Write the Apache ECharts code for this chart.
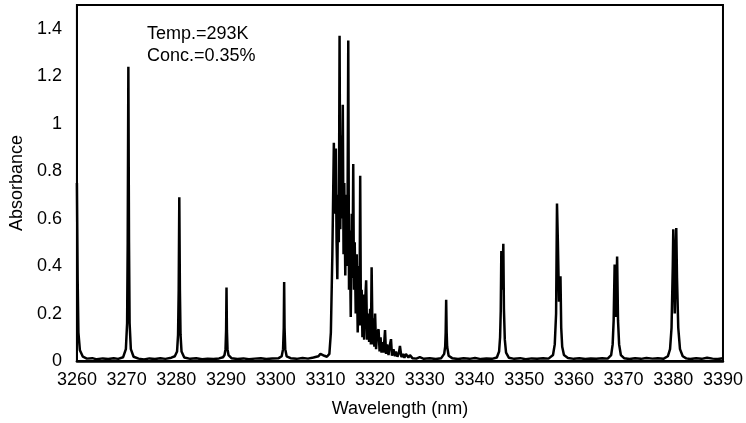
<!DOCTYPE html>
<html>
<head>
<meta charset="utf-8">
<script src="https://cdn.jsdelivr.net/npm/echarts@6/dist/echarts.min.js"></script>
<style>
html,body{margin:0;padding:0;background:#fff;}
#chart{width:746px;height:423px;}
</style>
</head>
<body>
<div id="chart"></div>
<script>
// Wavelength (nm) and absorbance
var wavelength = [
3260.0,3260.15,3260.3,3260.6,3261.2,3262.0,3263.1,3264.0,3265.2,3266.3,3267.4,3268.3,3269.3,
3269.85,3270.1,3270.22,3270.35,3270.48,3270.6,3270.85,3271.4,3272.4,3273.5,3274.6,3275.7,3276.8,3277.8,3279.0,3279.7,
3280.15,3280.35,3280.48,3280.6,3280.72,3280.85,3281.05,3281.6,3282.8,3284.0,3285.2,3286.3,3287.5,3288.6,3289.4,
3289.7,3289.9,3290.02,3290.1,3290.18,3290.3,3290.5,3291.1,3292.3,3293.5,3294.6,3295.8,3297.0,3298.1,3299.3,3300.6,3301.2,
3301.48,3301.62,3301.7,3301.78,3301.92,3302.2,3303.0,3304.2,3305.4,3306.5,3307.6,3308.6,3309.0,3309.4,3309.8,3310.3,3310.8,
3311.1,3311.4,3311.7,3311.85,3311.95,3312.1,3312.25,3312.4,3312.55,3312.7,3312.85,3313.0,3313.15,3313.3,3313.5,3313.65,3313.8,3314.0,
3314.15,3314.3,3314.45,3314.6,3314.75,3314.9,3315.1,3315.3,3315.45,3315.6,3315.75,3315.9,3316.1,3316.3,3316.5,3316.7,3316.85,
3317.0,3317.15,3317.3,3317.45,3317.6,3317.8,3318.0,3318.2,3318.4,3318.6,3318.8,3319.0,3319.15,3319.3,3319.5,3319.7,3319.85,3320.0,3320.2,3320.4,3320.7,
3320.9,3321.1,3321.3,3321.5,3321.7,3322.0,3322.2,3322.4,3322.7,3322.9,3323.2,3323.4,3323.7,3324.0,3324.2,3324.5,3324.8,3325.0,3325.3,
3325.6,3325.9,3326.2,3326.7,3327.0,3327.5,3327.8,3328.3,3329.0,3329.8,
3331.0,3332.2,3333.3,3333.9,
3334.1,3334.2,3334.3,3334.4,3334.5,3334.8,3335.5,3336.7,3337.8,3339.0,3340.1,3341.3,3342.4,3343.5,3344.5,
3344.95,3345.15,3345.28,3345.4,3345.6,3345.8,3345.92,3346.1,3346.35,3346.9,3348.0,3349.2,3350.3,3351.5,3352.6,3353.8,3354.9,
3355.8,3356.15,3356.42,3356.6,3356.78,3357.0,3357.3,3357.45,3357.65,3358.0,3358.8,3360.0,3361.1,3362.3,3363.4,3364.5,3365.7,3366.8,
3367.5,3367.8,3368.0,3368.2,3368.45,3368.7,3368.88,3369.1,3369.45,3370.1,3371.2,3372.3,3373.5,3374.6,3375.8,3376.9,3378.0,3378.9,
3379.35,3379.65,3379.9,3380.0,3380.15,3380.3,3380.45,3380.6,3380.75,3381.0,3381.35,3381.9,3382.6,3383.4,3384.6,3385.7,3386.8,3387.9,3389.0,3390.0
];
var absorbance = [
0.75,0.34,0.12,0.045,0.018,0.010,0.012,0.007,0.011,0.008,0.012,0.009,0.016,
0.05,0.16,0.5,1.24,0.5,0.16,0.05,0.018,0.010,0.006,0.011,0.008,0.012,0.009,0.014,0.02,
0.04,0.11,0.3,0.69,0.3,0.11,0.04,0.015,0.009,0.012,0.007,0.010,0.008,0.011,0.016,
0.025,0.05,0.13,0.31,0.13,0.05,0.025,0.012,0.008,0.011,0.007,0.010,0.012,0.008,0.011,0.012,0.02,
0.05,0.14,0.333,0.14,0.05,0.02,0.012,0.009,0.013,0.010,0.015,0.02,0.03,0.038,0.022,0.018,0.03,
0.12,0.45,0.92,0.62,0.80,0.895,0.5,0.345,0.7,0.5,1.37,0.555,0.95,0.6,1.08,0.45,0.75,0.36,
0.7,0.4,0.6,1.35,0.3,0.55,0.185,0.62,0.35,0.83,0.3,0.5,0.2,0.45,0.12,0.4,0.15,
0.78,0.15,0.30,0.1,0.28,0.09,0.25,0.34,0.09,0.2,0.08,0.22,0.07,0.395,0.07,0.18,0.06,0.2,0.05,0.12,0.134,
0.04,0.1,0.035,0.08,0.035,0.13,0.03,0.07,0.025,0.06,0.092,0.022,0.05,0.02,0.04,0.018,0.035,0.064,0.016,
0.03,0.014,0.03,0.014,0.025,0.012,0.02,0.010,0.016,0.009,
0.012,0.008,0.012,0.03,
0.06,0.12,0.258,0.12,0.06,0.022,0.012,0.008,0.012,0.009,0.013,0.008,0.011,0.009,0.015,
0.04,0.10,0.21,0.463,0.30,0.494,0.22,0.09,0.035,0.014,0.009,0.012,0.007,0.011,0.009,0.012,0.010,
0.025,0.07,0.2,0.664,0.5,0.25,0.357,0.14,0.06,0.025,0.013,0.009,0.012,0.008,0.011,0.009,0.012,0.010,
0.025,0.07,0.17,0.407,0.185,0.44,0.17,0.07,0.025,0.012,0.008,0.012,0.009,0.013,0.010,0.012,0.009,0.02,
0.05,0.14,0.4,0.555,0.4,0.2,0.4,0.56,0.35,0.14,0.05,0.02,0.011,0.008,0.012,0.009,0.014,0.010,0.008,0.012
];
var xTicks = { min: 3260, max: 3390, step: 10 };
var yTicks = { min: 0, max: 1.5, step: 0.2 };
var xName = 'Wavelength (nm)';
var yName = 'Absorbance';
var noteLines = ['Temp.=293K', 'Conc.=0.35%'];

var points = wavelength.map(function (w, i) { return [w, absorbance[i]]; });
var FONT = 'Liberation Sans, Arial, sans-serif';
var chart = echarts.init(document.getElementById('chart'));
chart.setOption({
  animation: false,
  backgroundColor: '#fff',
  grid: { left: 75, right: 21, top: 5, bottom: 61, show: true, borderColor: '#000', borderWidth: 2, backgroundColor: 'transparent' },
  xAxis: {
    type: 'value', min: xTicks.min, max: xTicks.max, interval: xTicks.step,
    name: xName, nameLocation: 'middle', nameGap: 39,
    nameTextStyle: { color: '#000', fontFamily: FONT, fontSize: 18 },
    axisLine: { show: true, lineStyle: { color: '#000', width: 2.5 } },
    axisTick: { show: false },
    splitLine: { show: false },
    axisLabel: { color: '#000', fontFamily: FONT, fontSize: 18, margin: 10,
      formatter: function (v) { return String(Math.round(v)); } }
  },
  yAxis: {
    type: 'value', min: yTicks.min, max: yTicks.max, interval: yTicks.step,
    name: yName, nameLocation: 'middle', nameGap: 42, nameRotate: 90,
    nameTextStyle: { color: '#000', fontFamily: FONT, fontSize: 18 },
    axisLine: { show: true, lineStyle: { color: '#000', width: 2 } },
    axisTick: { show: false },
    splitLine: { show: false },
    axisLabel: { color: '#000', fontFamily: FONT, fontSize: 18, margin: 15, showMaxLabel: false,
      formatter: function (v) { return String(Math.round(v * 10) / 10); } }
  },
  graphic: [
    { type: 'text', left: 147, top: 25, style: { text: noteLines[0], fill: '#000', font: '18px ' + FONT } },
    { type: 'text', left: 147, top: 47, style: { text: noteLines[1], fill: '#000', font: '18px ' + FONT } }
  ],
  series: [{
    type: 'line', data: points, showSymbol: false, symbol: 'none', sampling: null,
    lineStyle: { color: '#000', width: 2.5 }, clip: true
  }]
});
</script>
</body>
</html>
